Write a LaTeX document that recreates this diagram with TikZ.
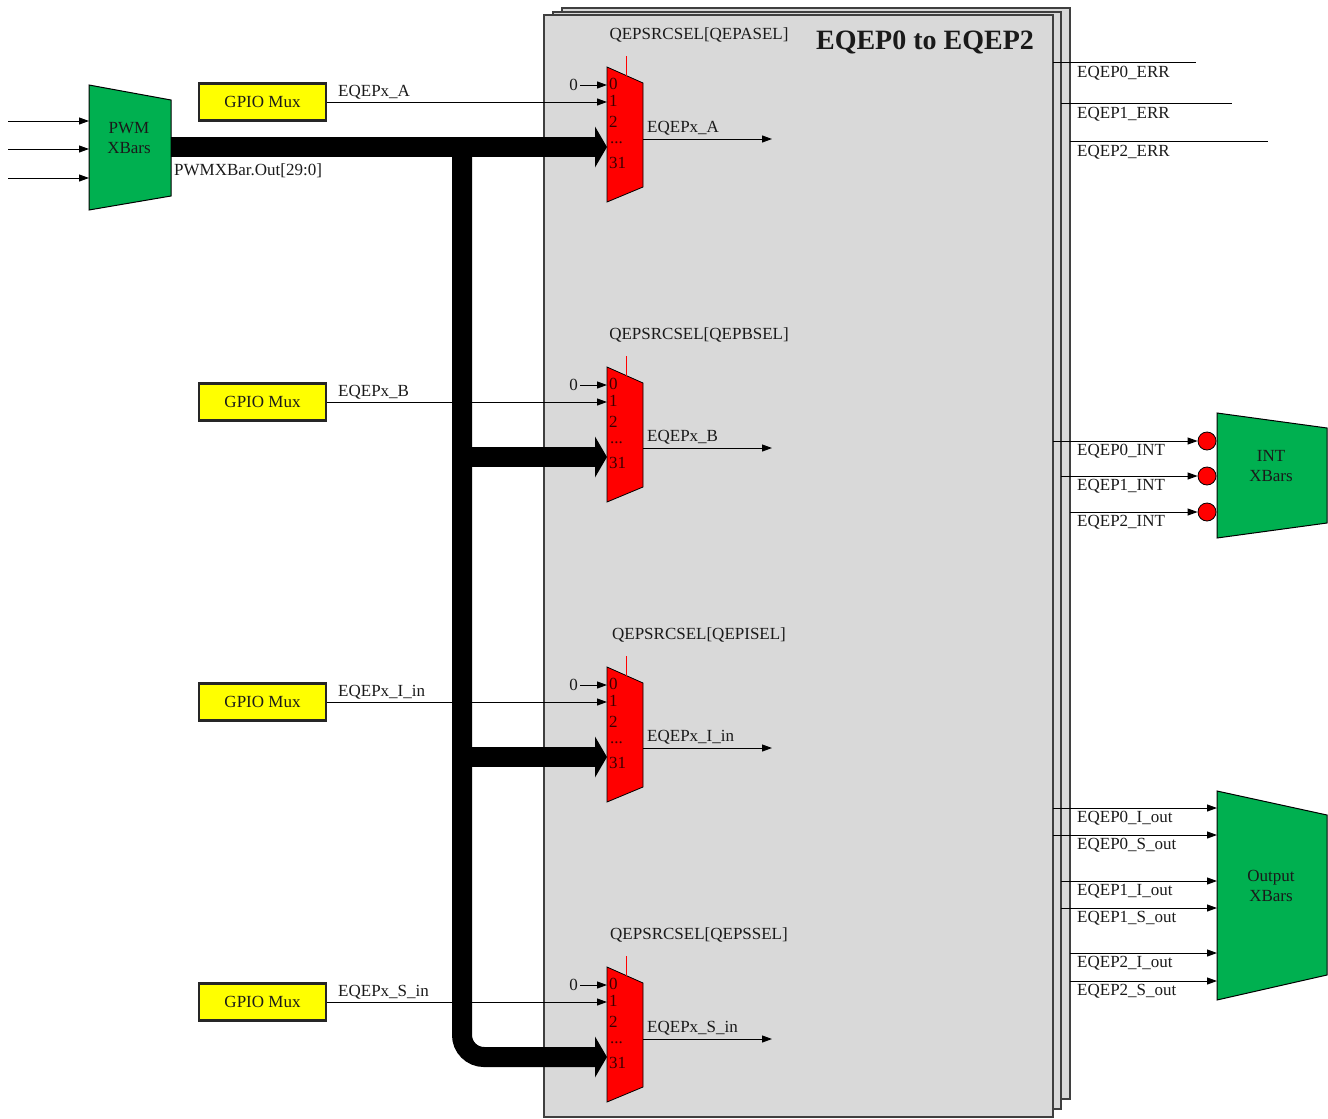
\documentclass[tikz,border=0pt]{standalone}
\usepackage{fontspec}
\setmainfont{Liberation Serif}
\usetikzlibrary{arrows.meta}
\definecolor{boxgray}{HTML}{D9D9D9}
\definecolor{boxedge}{HTML}{3F3F3F}
\definecolor{xgreen}{HTML}{00B050}
\definecolor{gpioy}{HTML}{FFFF00}
\definecolor{muxred}{HTML}{FF0000}
\definecolor{txt}{HTML}{1A1A1A}
\definecolor{muxtxt}{HTML}{3A0000}
\begin{document}
\begin{tikzpicture}[x=1pt,y=-1pt,
  every node/.style={font=\fontsize{17}{20}\selectfont, inner sep=0pt, text=txt},
  lbl/.style={anchor=west},
  sig/.style={draw=black, line width=1pt, -{Triangle[length=10pt,width=7pt]}},
  wire/.style={draw=black, line width=1pt},
  bus/.style={draw=black, line width=20pt},
  stackbox/.style={fill=boxgray, draw=boxedge, line width=1.5pt},
  xbar/.style={fill=xgreen, draw=black, line width=1pt},
  muxshape/.style={fill=muxred, draw=black, line width=0.8pt},
  muxnum/.style={anchor=west, text=muxtxt},
  gpio/.style={draw=black!85, fill=gpioy, line width=2.8pt, minimum width=127pt, minimum height=37pt},
  intdot/.style={circle, fill=red, draw=black, line width=0.8pt, minimum size=18pt}]
\useasboundingbox (0,0) rectangle (1328,1119);

% stacked module boxes
\draw[stackbox] (562,8) rectangle (1070,1099);
\draw[stackbox] (553,12) rectangle (1061,1109);
\draw[stackbox] (544,15) rectangle (1053,1117);
\node[font=\bfseries\fontsize{28}{30}\selectfont] (title) at (925,42) {EQEP0 to EQEP2};

% PWM XBars
\filldraw[xbar] (89,85) -- (171,100) -- (171,196) -- (89,210) -- cycle;
\node[align=center] (pwm) at (129,138) {PWM\\XBars};
\foreach \k/\yy in {1/121,2/149,3/178}{
  \coordinate (pin\k) at (8,\yy);
  \coordinate (pwmin\k) at (89,\yy);
  \draw[sig] (pin\k) -- (pwmin\k);
}
\node[lbl] (pwmlbl) at (174,171) {PWMXBar.Out[29:0]};

% muxes and GPIO muxes
\foreach \n/\yo/\yb/\yq/\sel/\out in {A/67/147/139/QEPASEL/EQEPx\_A, B/367/457/448/QEPBSEL/EQEPx\_B, I/667/757/748/QEPISEL/EQEPx\_I\_in, S/967/1057/1039/QEPSSEL/EQEPx\_S\_in}{
  \filldraw[muxshape] (607,\yo) -- (643,\yo+16) -- (643,\yo+120) -- (607,\yo+135) -- cycle;
  \coordinate (m\n-sel) at (626,\yo+8.5);
  \coordinate (m\n-seltop) at (626,\yo-11);
  \draw[red, line width=1pt] (m\n-sel) -- (m\n-seltop);
  \node (m\n-title) at (699,\yo-32) {QEPSRCSEL[\sel]};
  \node[anchor=east] (m\n-zero) at (578,\yo+18) {0};
  \coordinate (m\n-in0) at (607,\yo+18);
  \draw[sig] (m\n-zero.east) ++(2,0) -- (m\n-in0);
  \node[muxnum] (m\n-n0) at (609,\yo+17) {0};
  \node[muxnum] (m\n-n1) at (609,\yo+34) {1};
  \node[muxnum] (m\n-n2) at (609,\yo+55) {2};
  \node[muxnum] (m\n-nd) at (610,\yo+76) {...};
  \node[muxnum] (m\n-n31) at (609,\yo+96) {31};
  \coordinate (m\n-in1) at (607,\yo+35);
  \node[gpio] (g\n) at (262.5,\yo+35) {GPIO Mux};
  \draw[sig] (g\n.east) -- (m\n-in1);
  \node[lbl] (g\n-lbl) at (338,\yo+25) {\out};
  \coordinate (m\n-bus) at (596,\yb);
  \coordinate (m\n-out) at (643,\yq);
  \coordinate (m\n-q) at (772,\yq);
  \draw[sig] (m\n-out) -- (m\n-q);
  \node[lbl] (m\n-outlbl) at (647,\yq-11) {\out};
}

% bus
\coordinate (pwmout) at (171,147);
\coordinate (split) at (462,147);
\draw[bus] (pwmout) -- (mA-bus);
\draw[bus, rounded corners=22pt] (split) |- (mS-bus);
\draw[bus] (split |- mB-bus) -- (mB-bus);
\draw[bus] (split |- mI-bus) -- (mI-bus);
\foreach \n in {A,B,I,S}{
  \fill[black] (m\n-bus) ++(-1,-20.5) -- ++(12,20.5) -- ++(-12,20.5) -- cycle;
}

% ERR outputs
\foreach \k/\xs/\xe/\yy in {0/1053/1196/62, 1/1061/1232/103, 2/1070/1268/141}{
  \coordinate (err\k-a) at (\xs,\yy);
  \coordinate (err\k-b) at (\xe,\yy);
  \draw[wire] (err\k-a) -- (err\k-b);
  \node[lbl] (err\k-lbl) at (1077,\yy+11) {EQEP\k\_ERR};
}

% INT XBars
\filldraw[xbar] (1217,413) -- (1327,428) -- (1327,523) -- (1217,538) -- cycle;
\node[align=center] (intx) at (1271,466) {INT\\XBars};
\foreach \k/\xs/\yy in {0/1053/441, 1/1061/476, 2/1070/512}{
  \node[intdot] (dot\k) at (1207,\yy) {};
  \coordinate (int\k-a) at (\xs,\yy);
  \draw[sig] (int\k-a) -- (dot\k.west);
  \node[lbl] (int\k-lbl) at (1077,\yy+10) {EQEP\k\_INT};
}

% Output XBars
\filldraw[xbar] (1217,791) -- (1327,815) -- (1327,975) -- (1217,1000) -- cycle;
\node[align=center] (outx) at (1271,886) {Output\\XBars};
\foreach \k/\s/\xs/\yy in {0/I/1053/808, 0/S/1053/835, 1/I/1061/881, 1/S/1061/908, 2/I/1070/953, 2/S/1070/981}{
  \coordinate (o\k\s-a) at (\xs,\yy);
  \coordinate (o\k\s-b) at (1217,\yy);
  \draw[sig] (o\k\s-a) -- (o\k\s-b);
  \node[lbl] (o\k\s-lbl) at (1077,\yy+10) {EQEP\k\_\s\_out};
}
\end{tikzpicture}
\end{document}
